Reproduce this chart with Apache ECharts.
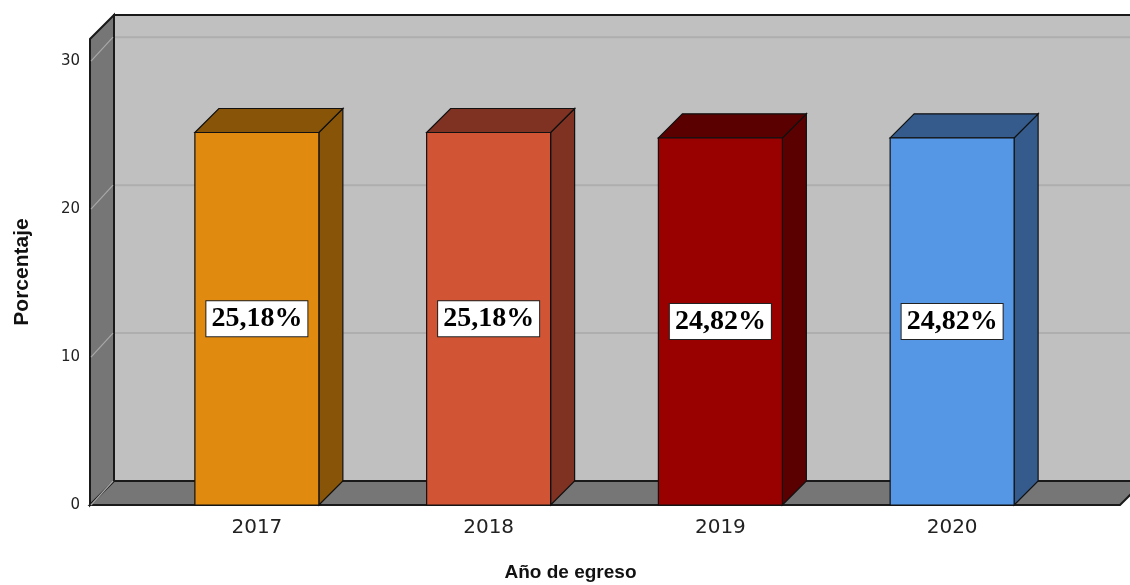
<!DOCTYPE html>
<html>
<head>
<meta charset="utf-8">
<script src="https://cdn.jsdelivr.net/npm/echarts@6/dist/echarts.min.js"></script>
<style>
  html, body { margin: 0; padding: 0; background: #fff; }
  #main { width: 1130px; height: 585px; }
</style>
</head>
<body>
<div id="main"></div>
<script>
var years = ['2017', '2018', '2019', '2020'];
var percents = [25.18, 25.18, 24.82, 24.82];
var percentLabels = ['25,18%', '25,18%', '24,82%', '24,82%'];
var frontColors = ['#e08a10', '#d15535', '#990000', '#5596e5'];
var sideColors = ['#875408', '#7f3222', '#5a0000', '#345b8c'];
var yTicks = [0, 10, 20, 30];

var DEPTH = 24;      // 3d offset in px
var FRAME_LEFT = 90; // front edge of the left wall
var FRAME_RIGHT = 1120;

function renderBar(params, api) {
    var i = params.dataIndex;
    var base = api.coord([api.value(0), 0]);
    var top = api.coord([api.value(0), api.value(1)]);
    var w = api.size([1, 0])[0] * 0.535;
    var x0 = base[0] - w / 2, x1 = base[0] + w / 2;
    var yt = top[1], yb = base[1];
    var edge = { stroke: '#111', lineWidth: 1.2 };
    return {
        type: 'group',
        children: [
            { type: 'polygon', shape: { points: [[x1, yt], [x1 + DEPTH, yt - DEPTH], [x1 + DEPTH, yb - DEPTH], [x1, yb]] },
              style: Object.assign({ fill: sideColors[i] }, edge) },
            { type: 'polygon', shape: { points: [[x0, yt], [x0 + DEPTH, yt - DEPTH], [x1 + DEPTH, yt - DEPTH], [x1, yt]] },
              style: Object.assign({ fill: sideColors[i] }, edge) },
            { type: 'rect', shape: { x: x0, y: yt, width: w, height: yb - yt },
              style: Object.assign({ fill: frontColors[i] }, edge) },
            { type: 'text', x: base[0], y: (yt + yb) / 2,
              style: { text: percentLabels[i], font: 'bold 28px "Liberation Serif"', fill: '#000',
                       align: 'center', verticalAlign: 'middle', backgroundColor: '#fff',
                       borderColor: '#222', borderWidth: 1, padding: [4, 5, 3, 5] } }
        ]
    };
}

var myChart = echarts.init(document.getElementById('main'));

var option = {
    animation: false,
    grid: { left: 141, right: 62, top: 39, bottom: 80, outerBoundsMode: 'none', containLabel: false },
    xAxis: {
        type: 'category',
        data: years,
        axisLine: { show: false },
        axisTick: { show: false },
        axisLabel: { fontFamily: 'DejaVu Sans', fontSize: 20, color: '#222', margin: 13 },
        name: 'Año de egreso',
        nameLocation: 'middle',
        nameGap: 58,
        nameTextStyle: { fontFamily: 'Liberation Sans', fontWeight: 'bold', fontSize: 19, color: '#111', padding: [0, 68, 0, 0] }
    },
    yAxis: {
        type: 'value',
        min: 0,
        max: 31.5,
        interval: 10,
        axisLine: { show: false },
        axisTick: { show: false },
        splitLine: { show: false },
        axisLabel: { fontFamily: 'DejaVu Sans', fontSize: 15, color: '#222', margin: 61, padding: [8, 0, 0, 0],
                     formatter: function (v) { return yTicks.indexOf(v) >= 0 ? String(v) : ''; } },
        name: 'Porcentaje',
        nameLocation: 'middle',
        nameGap: 108,
        nameTextStyle: { fontFamily: 'Liberation Sans', fontWeight: 'bold', fontSize: 21, color: '#111' }
    },
    series: [{
        type: 'custom',
        z: 5,
        renderItem: renderBar,
        encode: { x: 0, y: 1 },
        data: percents.map(function (v, i) { return [i, v]; })
    }]
};
myChart.setOption(option);

// walls, floor and grid lines of the 3d frame
var yZero = myChart.convertToPixel({ yAxisIndex: 0 }, 0);
var yMax = myChart.convertToPixel({ yAxisIndex: 0 }, 31.5);
var graphics = [];
graphics.push({ type: 'rect', z: 0, shape: { x: FRAME_LEFT + DEPTH, y: yMax - DEPTH, width: FRAME_RIGHT - FRAME_LEFT + 10, height: yZero - yMax },
    style: { fill: '#c0c0c0', stroke: '#1a1a1a', lineWidth: 2 } });
yTicks.slice(1).forEach(function (t) {
    var y = myChart.convertToPixel({ yAxisIndex: 0 }, t);
    graphics.push({ type: 'line', z: 1, shape: { x1: FRAME_LEFT + DEPTH, y1: y - DEPTH, x2: FRAME_RIGHT + DEPTH + 20, y2: y - DEPTH },
        style: { stroke: '#aeaeae', lineWidth: 2 } });
});
graphics.push({ type: 'polygon', z: 2, shape: { points: [[FRAME_LEFT, yMax], [FRAME_LEFT + DEPTH, yMax - DEPTH], [FRAME_LEFT + DEPTH, yZero - DEPTH], [FRAME_LEFT, yZero]] },
    style: { fill: '#767676', stroke: '#1a1a1a', lineWidth: 2 } });
yTicks.forEach(function (t) {
    var y = myChart.convertToPixel({ yAxisIndex: 0 }, t);
    graphics.push({ type: 'line', z: 3, shape: { x1: FRAME_LEFT + 1, y1: y, x2: FRAME_LEFT + DEPTH - 1, y2: y - DEPTH },
        style: { stroke: '#a8a8a8', lineWidth: 1.2 } });
});
graphics.push({ type: 'polygon', z: 2, shape: { points: [[FRAME_LEFT, yZero], [FRAME_LEFT + DEPTH, yZero - DEPTH], [FRAME_RIGHT + DEPTH, yZero - DEPTH], [FRAME_RIGHT, yZero]] },
    style: { fill: '#767676', stroke: '#1a1a1a', lineWidth: 2 } });
myChart.setOption({ graphic: graphics });
</script>
</body>
</html>
